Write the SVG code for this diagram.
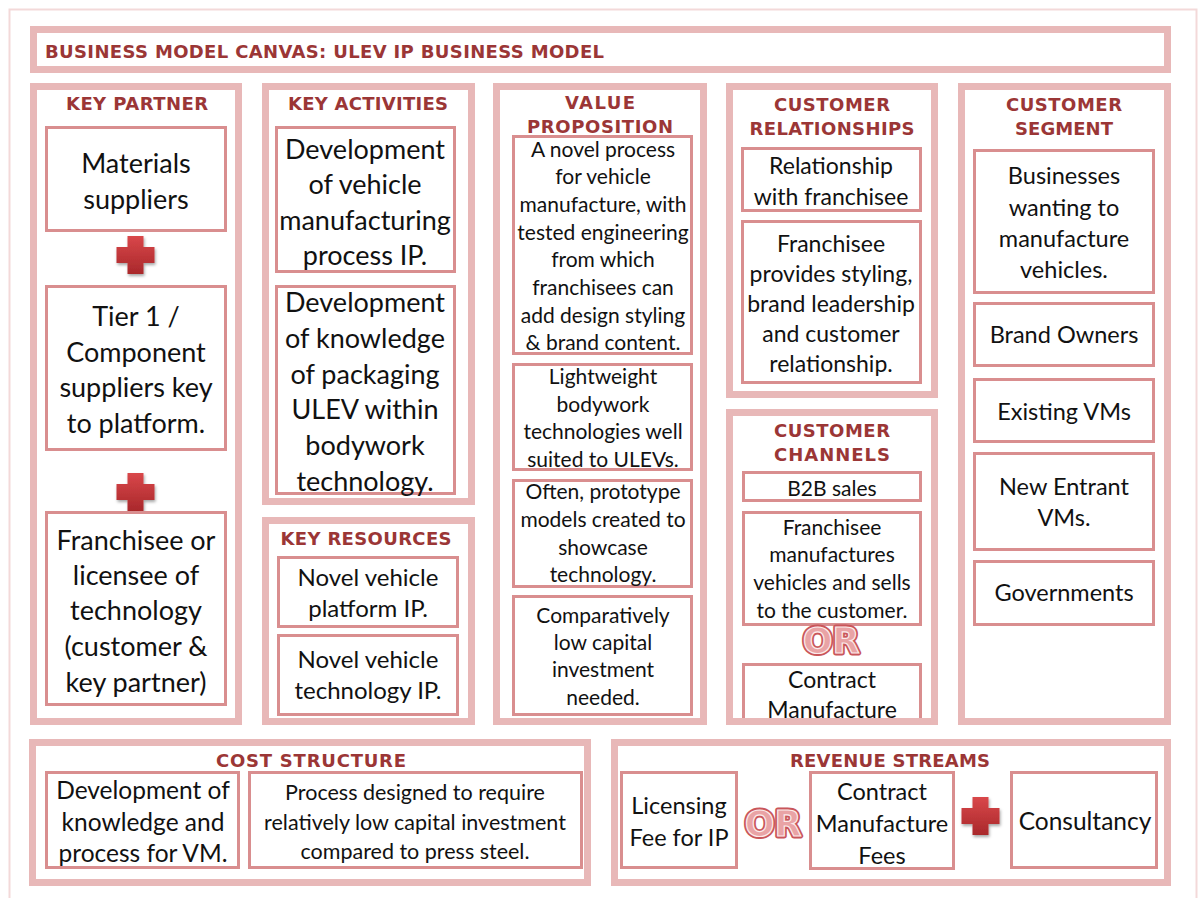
<svg xmlns="http://www.w3.org/2000/svg" width="1199" height="898" viewBox="0 0 1199 898">
<style>
.sec{fill:#fff;stroke:#e8b8b8;stroke-width:7}
.box{fill:#fff;stroke:#d98e8f;stroke-width:3}
.hd{font-family:"DejaVu Sans","Liberation Sans",sans-serif;font-weight:700;font-size:18px;fill:#9b3636;text-anchor:middle}
.tx{font-family:Lato,"Liberation Sans",sans-serif;fill:#111;text-anchor:middle}
.orb{font-family:"DejaVu Sans","Liberation Sans",sans-serif;font-weight:700;font-size:35px;fill:#c9565a;stroke:#c9565a;stroke-width:5;stroke-linejoin:round;text-anchor:middle}
.ort{font-family:"DejaVu Sans","Liberation Sans",sans-serif;font-weight:700;font-size:35px;fill:#e9a3a5;stroke:#fbeaea;stroke-width:1.2;text-anchor:middle}
</style>
<defs>
<linearGradient id="rg" x1="0" y1="0" x2="0" y2="1">
<stop offset="0" stop-color="#d9474a"/>
<stop offset="1" stop-color="#a9282b"/>
</linearGradient>
<filter id="sh" x="-30%" y="-30%" width="160%" height="160%">
<feDropShadow dx="1" dy="2" stdDeviation="1.5" flood-color="#000" flood-opacity="0.35"/>
</filter>
<path id="plus" d="M-8,-19h16v11h11v16h-11v11h-16v-11h-11v-16h11z" fill="url(#rg)" filter="url(#sh)"/>
</defs>
<rect width="1199" height="898" fill="#fff"/>
<rect x="9.5" y="9.5" width="1187" height="900" fill="none" stroke="#f3d9d9" stroke-width="2"/>

<g id="title">
<rect class="sec" x="33.5" y="29.5" width="1134" height="40"/>
<text class="hd" x="45" y="57.5" style="text-anchor:start" textLength="559">BUSINESS MODEL CANVAS: ULEV IP BUSINESS MODEL</text>
</g>

<g id="key-partner">
<rect class="sec" x="33.5" y="86.5" width="205" height="635"/>
<text class="hd" x="137" y="110" textLength="142">KEY PARTNER</text>
<rect class="box" x="46.5" y="127.5" width="179" height="103"/>
<text class="tx" font-size="27"><tspan x="136" y="173">Materials</tspan><tspan x="136" y="209">suppliers</tspan></text>
<use href="#plus" x="135.5" y="255"/>
<rect class="box" x="46.5" y="286.5" width="179" height="163"/>
<text class="tx" font-size="27"><tspan x="136" y="326">Tier 1 /</tspan><tspan x="136" y="362">Component</tspan><tspan x="136" y="397">suppliers key</tspan><tspan x="136" y="433">to platform.</tspan></text>
<use href="#plus" x="135.5" y="492"/>
<rect class="box" x="46.5" y="512.5" width="179" height="192"/>
<text class="tx" font-size="27"><tspan x="136" y="550">Franchisee or</tspan><tspan x="136" y="585">licensee of</tspan><tspan x="136" y="620">technology</tspan><tspan x="136" y="656">(customer &amp;</tspan><tspan x="136" y="692">key partner)</tspan></text>
</g>

<g id="key-activities">
<rect class="sec" x="265.5" y="86.5" width="206" height="415"/>
<text class="hd" x="368" y="110" textLength="160">KEY ACTIVITIES</text>
<rect class="box" x="276.5" y="127.5" width="178" height="144"/>
<text class="tx" font-size="27"><tspan x="365" y="159">Development</tspan><tspan x="365" y="194">of vehicle</tspan><tspan x="365" y="230">manufacturing</tspan><tspan x="365" y="265">process IP.</tspan></text>
<rect class="box" x="276.5" y="286.5" width="178" height="207"/>
<text class="tx" font-size="27"><tspan x="365" y="312">Development</tspan><tspan x="365" y="348">of knowledge</tspan><tspan x="365" y="384">of packaging</tspan><tspan x="365" y="419">ULEV within</tspan><tspan x="365" y="455">bodywork</tspan><tspan x="365" y="491">technology.</tspan></text>
</g>

<g id="key-resources">
<rect class="sec" x="265.5" y="520.5" width="206" height="201"/>
<text class="hd" x="366" y="545" textLength="171">KEY RESOURCES</text>
<rect class="box" x="278.5" y="557.5" width="179" height="69"/>
<text class="tx" font-size="24"><tspan x="368" y="586">Novel vehicle</tspan><tspan x="368" y="617">platform IP.</tspan></text>
<rect class="box" x="278.5" y="635.5" width="179" height="79"/>
<text class="tx" font-size="24"><tspan x="368" y="668">Novel vehicle</tspan><tspan x="368" y="699">technology IP.</tspan></text>
</g>

<g id="value-proposition">
<rect class="sec" x="496.5" y="86.5" width="207" height="635"/>
<text class="hd"><tspan x="600" y="109" textLength="70">VALUE</tspan><tspan x="600" y="133" textLength="146">PROPOSITION</tspan></text>
<rect class="box" x="513.5" y="136.5" width="178" height="217"/>
<text class="tx" font-size="21"><tspan x="603" y="157">A novel process</tspan><tspan x="603" y="184">for vehicle</tspan><tspan x="603" y="212">manufacture, with</tspan><tspan x="603" y="240">tested engineering</tspan><tspan x="603" y="267">from which</tspan><tspan x="603" y="295">franchisees can</tspan><tspan x="603" y="323">add design styling</tspan><tspan x="603" y="350">&amp; brand content.</tspan></text>
<rect class="box" x="513.5" y="364.5" width="178" height="105"/>
<text class="tx" font-size="21"><tspan x="603" y="384">Lightweight</tspan><tspan x="603" y="412">bodywork</tspan><tspan x="603" y="439">technologies well</tspan><tspan x="603" y="467">suited to ULEVs.</tspan></text>
<rect class="box" x="513.5" y="480.5" width="178" height="106"/>
<text class="tx" font-size="21"><tspan x="603" y="499">Often, prototype</tspan><tspan x="603" y="527">models created to</tspan><tspan x="603" y="555">showcase</tspan><tspan x="603" y="582">technology.</tspan></text>
<rect class="box" x="513.5" y="596.5" width="178" height="118"/>
<text class="tx" font-size="21"><tspan x="603" y="623">Comparatively</tspan><tspan x="603" y="650">low capital</tspan><tspan x="603" y="677">investment</tspan><tspan x="603" y="705">needed.</tspan></text>
</g>

<g id="customer-relationships">
<rect class="sec" x="729.5" y="86.5" width="205" height="308"/>
<text class="hd"><tspan x="832" y="111" textLength="116">CUSTOMER</tspan><tspan x="832" y="135" textLength="165">RELATIONSHIPS</tspan></text>
<rect class="box" x="742.5" y="148.5" width="178" height="62"/>
<text class="tx" font-size="23"><tspan x="831" y="174">Relationship</tspan><tspan x="831" y="205">with franchisee</tspan></text>
<rect class="box" x="742.5" y="221.5" width="178" height="161"/>
<text class="tx" font-size="23"><tspan x="831" y="252">Franchisee</tspan><tspan x="831" y="282">provides styling,</tspan><tspan x="831" y="312">brand leadership</tspan><tspan x="831" y="342">and customer</tspan><tspan x="831" y="372">relationship.</tspan></text>
</g>

<g id="customer-channels">
<rect class="sec" x="729.5" y="412.5" width="205" height="309"/>
<text class="hd"><tspan x="832" y="437" textLength="116">CUSTOMER</tspan><tspan x="832" y="461" textLength="116">CHANNELS</tspan></text>
<rect class="box" x="743.5" y="472.5" width="177" height="28"/>
<text class="tx" font-size="21" x="832" y="496">B2B sales</text>
<rect class="box" x="743.5" y="512.5" width="177" height="112"/>
<text class="tx" font-size="21"><tspan x="832" y="535">Franchisee</tspan><tspan x="832" y="562">manufactures</tspan><tspan x="832" y="590">vehicles and sells</tspan><tspan x="832" y="618">to the customer.</tspan></text>
<text class="orb" x="831" y="653">OR</text>
<text class="ort" x="831" y="653">OR</text>
<path d="M743.5,718V664.5H920.5V718" fill="#fff" stroke="#d98e8f" stroke-width="3"/>
<text class="tx" font-size="23"><tspan x="832" y="688">Contract</tspan><tspan x="832" y="718">Manufacture</tspan></text>
<rect x="729.5" y="719" width="205" height="3.5" fill="#e8b8b8"/>
</g>

<g id="customer-segment">
<rect class="sec" x="961.5" y="86.5" width="206" height="635"/>
<text class="hd"><tspan x="1064" y="111" textLength="116">CUSTOMER</tspan><tspan x="1064" y="135" textLength="98">SEGMENT</tspan></text>
<rect class="box" x="974.5" y="150.5" width="179" height="142"/>
<text class="tx" font-size="23.5"><tspan x="1064" y="184">Businesses</tspan><tspan x="1064" y="216">wanting to</tspan><tspan x="1064" y="247">manufacture</tspan><tspan x="1064" y="278">vehicles.</tspan></text>
<rect class="box" x="974.5" y="303.5" width="179" height="62"/>
<text class="tx" font-size="23.5" x="1064" y="343">Brand Owners</text>
<rect class="box" x="974.5" y="379.5" width="179" height="62"/>
<text class="tx" font-size="23.5" x="1064" y="420">Existing VMs</text>
<rect class="box" x="974.5" y="453.5" width="179" height="96"/>
<text class="tx" font-size="23.5"><tspan x="1064" y="495">New Entrant</tspan><tspan x="1064" y="526">VMs.</tspan></text>
<rect class="box" x="974.5" y="561.5" width="179" height="63"/>
<text class="tx" font-size="23.5" x="1064" y="601">Governments</text>
</g>

<g id="cost-structure">
<rect class="sec" x="32.5" y="742.5" width="555" height="140"/>
<text class="hd" x="311" y="767" textLength="190">COST STRUCTURE</text>
<rect class="box" x="46.5" y="772.5" width="192" height="95"/>
<text class="tx" font-size="24.5"><tspan x="143" y="799">Development of</tspan><tspan x="143" y="831">knowledge and</tspan><tspan x="143" y="862">process for VM.</tspan></text>
<rect class="box" x="249.5" y="772.5" width="332" height="95"/>
<text class="tx" font-size="21.5"><tspan x="415" y="800">Process designed to require</tspan><tspan x="415" y="830">relatively low capital investment</tspan><tspan x="415" y="859">compared to press steel.</tspan></text>
</g>

<g id="revenue-streams">
<rect class="sec" x="614.5" y="742.5" width="553" height="140"/>
<text class="hd" x="890" y="767" textLength="200">REVENUE STREAMS</text>
<rect class="box" x="621.5" y="772.5" width="115" height="95"/>
<text class="tx" font-size="23.5"><tspan x="679" y="814">Licensing</tspan><tspan x="679" y="846">Fee for IP</tspan></text>
<text class="orb" x="773" y="836">OR</text>
<text class="ort" x="773" y="836">OR</text>
<rect class="box" x="810.5" y="772.5" width="143" height="96"/>
<text class="tx" font-size="23.5"><tspan x="882" y="800">Contract</tspan><tspan x="882" y="832">Manufacture</tspan><tspan x="882" y="864">Fees</tspan></text>
<use href="#plus" x="980.5" y="816"/>
<rect class="box" x="1011.5" y="772.5" width="145" height="95"/>
<text class="tx" font-size="24.5" x="1085" y="830">Consultancy</text>
</g>
</svg>
